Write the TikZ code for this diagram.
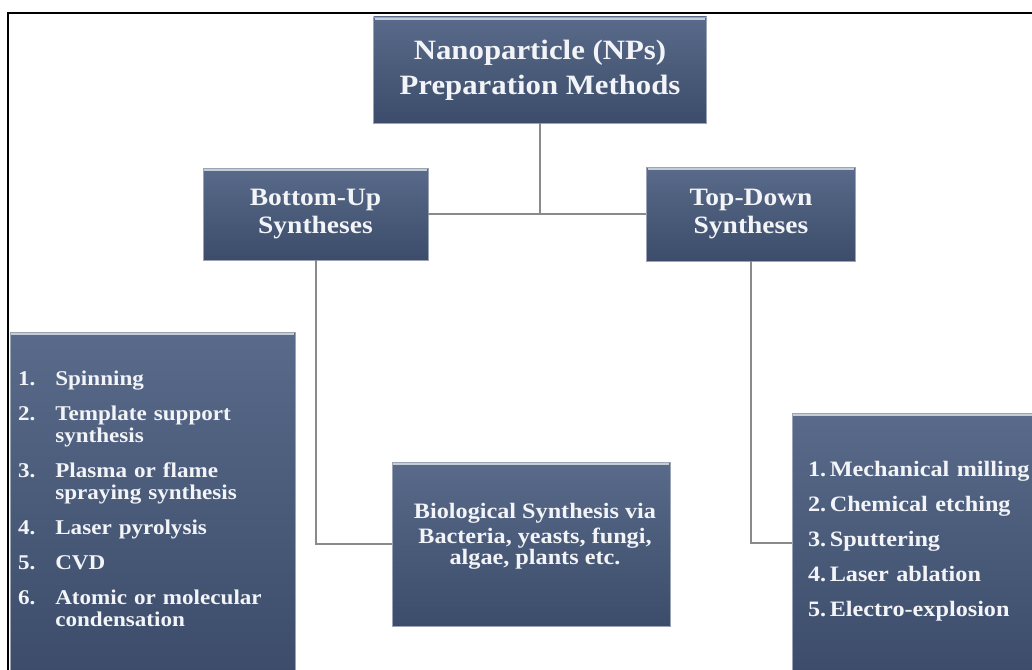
\documentclass[tikz,border=0pt]{standalone}
\usepackage{fontspec}
\setmainfont{Liberation Serif}
\newfontfamily\widefont[FakeStretch=1.1]{Liberation Serif}
\definecolor{boxtop}{HTML}{596A8A}
\definecolor{boxbot}{HTML}{3C4C6A}
\definecolor{boxedge}{HTML}{9AA4B4}
\definecolor{hilite}{HTML}{C4CCD6}
\definecolor{txt}{HTML}{F2F4F7}
\definecolor{wire}{HTML}{8A8A8A}
\tikzset{
  pbox/.style={rectangle, top color=boxtop, bottom color=boxbot, draw=boxedge, line width=0.8pt,
    text=txt, font=\widefont\bfseries, align=center, inner sep=0pt},
  plaintext/.style={text=txt, align=center, inner sep=0pt},
  wirestyle/.style={draw=wire, line width=2pt},
}
\newcommand{\hl}[1]{\draw[hilite, line width=2.5pt] ([xshift=1.5pt,yshift=-2.5pt]#1.north west) -- ([xshift=-1.5pt,yshift=-2.5pt]#1.north east);}
\begin{document}
\begin{tikzpicture}[x=1pt,y=-1pt]
\useasboundingbox (0,0) rectangle (1032,669);
\fill[white] (0,0) rectangle (1032,669);
\clip (0,0) rectangle (1032,669);
% frame
\draw[line width=2pt, black] (8,672) -- (8,13) -- (1035,13);

% boxes
\node[pbox, minimum width=333pt, minimum height=106pt, font=\widefont\bfseries\fontsize{28}{35}\selectfont] (top) at (540,70)
  {Nanoparticle (NPs)\\Preparation Methods};
\node[pbox, minimum width=225pt, minimum height=92pt, font=\widefont\bfseries\fontsize{25}{28}\selectfont] (bu) at (315.5,214)
  {Bottom-Up\\Syntheses};
\node[pbox, minimum width=209pt, minimum height=94pt, font=\widefont\bfseries\fontsize{25}{28}\selectfont] (td) at (751,214)
  {Top-Down\\Syntheses};
\node[pbox, minimum width=278pt, minimum height=164pt] (bio) at (531,544) {};
\node[plaintext, font=\widefont\bfseries\fontsize{22}{21}\selectfont] (biot) at (bio.center) [xshift=4pt, yshift=8pt]
  {Biological Synthesis via\\[4pt]Bacteria, yeasts, fungi,\\algae, plants etc.};
\node[pbox, minimum width=285pt, minimum height=340pt, text width=269pt, inner xsep=8pt, align=left,
  font=\widefont\bfseries\fontsize{21}{22}\selectfont] (lb) at (152.5,502)
  {\begin{tabular}{@{}l@{\hspace{20pt}}l@{}}
  1. & Spinning\\[13pt]
  2. & Template support\\
     & synthesis\\[13pt]
  3. & Plasma or flame\\
     & spraying synthesis\\[13pt]
  4. & Laser pyrolysis\\[13pt]
  5. & CVD\\[13pt]
  6. & Atomic or molecular\\
     & condensation
  \end{tabular}};
\node[pbox, minimum width=250pt, minimum height=259pt, text width=218pt, inner xsep=16pt, align=left,
  font=\widefont\bfseries\fontsize{22}{22}\selectfont] (rb) at (917,542.5)
  {\begin{tabular}{@{}l@{}}
   1.\,Mechanical milling\\[13pt]
   2.\,Chemical etching\\[13pt]
   3.\,Sputtering\\[13pt]
   4.\,Laser ablation\\[13pt]
   5.\,Electro-explosion
   \end{tabular}};
\hl{top}\hl{bu}\hl{td}\hl{bio}\hl{lb}\hl{rb}

% connectors
\coordinate (j) at (top.south |- bu.east);
\draw[wirestyle] (top.south) -- (j);
\draw[wirestyle] (bu.east) -- (td.west);
\draw[wirestyle] (bu.south) -- (bu.south |- bio.west) -- (bio.west);
\draw[wirestyle] (td.south) -- (td.south |- rb.west) -- (rb.west);
\end{tikzpicture}
\end{document}
